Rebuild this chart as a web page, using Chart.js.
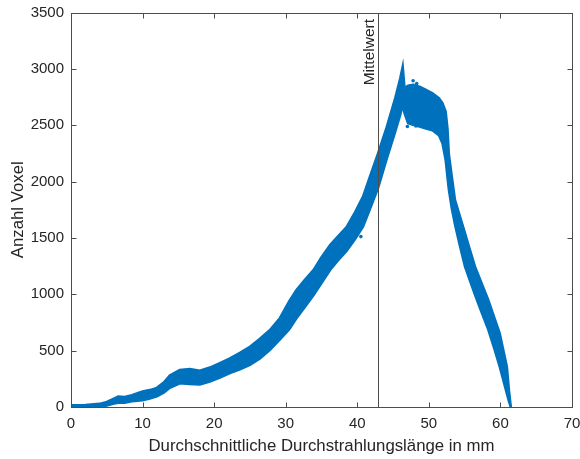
<!DOCTYPE html>
<html lang="de">
<head>
<meta charset="utf-8">
<title>Anzahl Voxel</title>
<script src="https://cdn.jsdelivr.net/npm/chart.js@4.4.1/dist/chart.umd.min.js"></script>
<style>
  html, body { margin: 0; padding: 0; background: #fff; }
</style>
</head>
<body>
<canvas id="canvas" width="580" height="459"></canvas>
<script>
'use strict';

// Punktwolke als obere / untere Huellkurve
const lengths = [0, 2, 4, 5, 6, 6.6, 7.5, 8.5, 10, 11,
  12, 13, 13.8, 15.2, 16.6, 18, 19.4, 20.8, 22.2, 23.6,
  25, 26.4, 27.8, 29.2, 30.5, 31.5, 32.7, 33.9, 35, 36.2,
  37.3, 38.5, 39.7, 40.8, 41.8, 42.9, 44.1, 45.3, 46.0, 46.35,
  46.6, 47.1, 47.8, 48.7, 49.6, 50.5, 51.4, 51.9, 52.35, 52.6,
  52.8, 53.2, 53.65, 54.3, 55.05, 55.7, 56.45, 57.3, 58.3, 59.1,
  59.9, 60.4, 60.9, 61.2, 61.45];
const upperVoxels = [15, 18, 28, 45, 75, 92, 88, 105, 138, 150,
  170, 220, 280, 328, 337, 322, 350, 390, 432, 480,
  535, 605, 683, 790, 940, 1039, 1130, 1216, 1330, 1438,
  1515, 1595, 1730, 1867, 2050, 2250, 2480, 2740, 2917, 3021,
  2830, 2850, 2858, 2843, 2814, 2784, 2740, 2696, 2621, 2473,
  2240, 2047, 1837, 1700, 1542, 1404, 1245, 1109, 950, 802,
  654, 506, 358, 143, 0];
const lowerVoxels = [0, 0, 3, 12, 30, 38, 38, 50, 60, 75,
  95, 130, 170, 210, 205, 200, 225, 260, 300, 335,
  373, 430, 506, 600, 690, 787, 890, 994, 1100, 1216,
  1300, 1385, 1490, 1600, 1760, 1941, 2200, 2444, 2592, 2681,
  2607, 2518, 2503, 2488, 2470, 2455, 2410, 2340, 2190, 2040,
  1927, 1762, 1620, 1439, 1245, 1129, 995, 851, 687, 527,
  358, 239, 119, 48, 0];

// einzelne Ausreisser
const strayLengths = [47.0, 48.2, 40.5, 47.8, 48.3];
const strayVoxels = [2488, 2494, 1512, 2894, 2870];

const xTicks = [0, 10, 20, 30, 40, 50, 60, 70];
const yTicks = [0, 500, 1000, 1500, 2000, 2500, 3000, 3500];
const meanLength = 42.9;
const meanLabel = 'Mittelwert';
const xTitle = 'Durchschnittliche Durchstrahlungslänge in mm';
const yTitle = 'Anzahl Voxel';

const blue = 'rgb(0, 114, 189)';
const textColor = '#262626';
const lineColor = '#4d4d4d';
const family = "'Liberation Sans', Arial, Helvetica, sans-serif";

function toPoints(xs, ys) {
  return xs.map((x, i) => ({x: x, y: ys[i]}));
}

function crisp(v) {
  return Math.round(v) + 0.5;
}

const axesBox = {
  id: 'axesBox',
  afterDatasetsDraw(chart) {
    const ctx = chart.ctx;
    const area = chart.chartArea;
    const xs = chart.scales.x;
    const ys = chart.scales.y;
    const left = crisp(area.left), right = crisp(area.right);
    const top = crisp(area.top), bottom = crisp(area.bottom);
    const tick = 5;

    ctx.save();
    ctx.lineWidth = 1;
    ctx.strokeStyle = lineColor;

    // Mittelwert
    const mx = crisp(xs.getPixelForValue(meanLength));
    ctx.beginPath();
    ctx.moveTo(mx, top);
    ctx.lineTo(mx, bottom);
    ctx.stroke();

    // Rahmen
    ctx.strokeRect(left, top, right - left, bottom - top);

    // Ticks nach innen, alle vier Seiten
    ctx.beginPath();
    xTicks.forEach(v => {
      const px = crisp(xs.getPixelForValue(v));
      ctx.moveTo(px, bottom); ctx.lineTo(px, bottom - tick);
      ctx.moveTo(px, top); ctx.lineTo(px, top + tick);
    });
    yTicks.forEach(v => {
      const py = crisp(ys.getPixelForValue(v));
      ctx.moveTo(left, py); ctx.lineTo(left + tick, py);
      ctx.moveTo(right, py); ctx.lineTo(right - tick, py);
    });
    ctx.stroke();

    ctx.translate(mx - 5, top + 5.5);
    ctx.rotate(-Math.PI / 2);
    ctx.font = '15.5px ' + family;
    ctx.fillStyle = textColor;
    ctx.textAlign = 'right';
    ctx.textBaseline = 'alphabetic';
    ctx.fillText(meanLabel, 0, 0);
    ctx.restore();
  }
};

const ctx = document.getElementById('canvas').getContext('2d');
new Chart(ctx, {
  type: 'line',
  data: {
    datasets: [
      {
        data: toPoints(lengths, lowerVoxels),
        borderColor: blue,
        borderWidth: 2.5,
        pointRadius: 0,
        fill: false,
        tension: 0
      },
      {
        data: toPoints(lengths, upperVoxels),
        borderColor: blue,
        backgroundColor: blue,
        borderWidth: 2.5,
        pointRadius: 0,
        fill: '-1',
        tension: 0
      },
      {
        data: toPoints(strayLengths, strayVoxels),
        showLine: false,
        pointRadius: 1.8,
        pointBorderWidth: 0,
        pointBackgroundColor: blue
      }
    ]
  },
  options: {
    responsive: false,
    animation: false,
    layout: {padding: {left: 0, right: 8, top: 12.5, bottom: 0}},
    plugins: {legend: {display: false}, tooltip: {enabled: false}},
    scales: {
      x: {
        type: 'linear',
        min: 0,
        max: 70,
        afterBuildTicks: s => { s.ticks = xTicks.map(v => ({value: v})); },
        afterFit: s => { s.height = 52; s.paddingLeft = 0; s.paddingRight = 0; },
        grid: {display: false, drawTicks: false},
        border: {display: false},
        ticks: {color: textColor, font: {size: 15, family: family}, padding: 8, maxRotation: 0, autoSkip: false,
          callback: v => String(v)},
        title: {display: true, text: xTitle, color: textColor, font: {size: 16.8, family: family}, padding: {top: 0, bottom: 3}}
      },
      y: {
        type: 'linear',
        min: 0,
        max: 3500,
        afterBuildTicks: s => { s.ticks = yTicks.map(v => ({value: v})); },
        afterFit: s => { s.width = 71; s.paddingTop = 0; s.paddingBottom = 0; },
        grid: {display: false, drawTicks: false},
        border: {display: false},
        ticks: {color: textColor, font: {size: 15, family: family}, padding: 7, autoSkip: false,
          callback: v => String(v)},
        title: {display: true, text: yTitle, color: textColor, font: {size: 16.8, family: family}, padding: {top: 8, bottom: 0}}
      }
    }
  },
  plugins: [axesBox]
});
</script>
</body>
</html>
